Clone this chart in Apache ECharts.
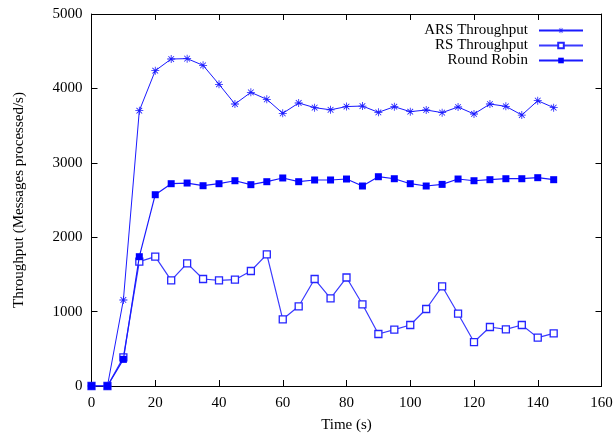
<!DOCTYPE html>
<html><head><meta charset="utf-8">
<script src="https://cdn.jsdelivr.net/npm/echarts@6/dist/echarts.min.js"></script>
<style>html,body{margin:0;padding:0;background:#fff}#c{width:615px;height:433px}</style>
</head><body><div id="c"></div>
<script>
const times = [0,5,10,15,20,25,30,35,40,45,50,55,60,65,70,75,80,85,90,95,100,105,110,115,120,125,130,135,140,145];
const arsThroughput = [0,0,1156,3700,4238,4395,4400,4310,4055,3790,3947,3853,3665,3804,3741,3712,3756,3763,3678,3754,3687,3710,3674,3750,3656,3790,3759,3642,3835,3741];
const rsThroughput = [0,0,385,1671,1738,1420,1649,1438,1420,1429,1546,1770,896,1071,1438,1178,1458,1098,699,757,820,1035,1340,972,591,793,762,820,650,708];
const roundRobin = [0,0,358,1738,2571,2719,2728,2692,2719,2759,2706,2746,2796,2746,2769,2769,2782,2688,2813,2786,2719,2688,2710,2782,2759,2773,2786,2786,2800,2773];
const seriesNames = ['ARS Throughput','RS Throughput','Round Robin'];

const pair = (ys) => times.map((t,i)=>[t, ys[i]]);
const font = '"Liberation Serif","DejaVu Serif",serif';
const blue = '#1a1aff';
const starPath = 'path://M4.5,0 L5.5,0 L5.5,3.8 L8.2,1.1 L8.9,1.8 L6.2,4.5 L10,4.5 L10,5.5 L6.2,5.5 L8.9,8.2 L8.2,8.9 L5.5,6.2 L5.5,10 L4.5,10 L4.5,6.2 L1.8,8.9 L1.1,8.2 L3.8,5.5 L0,5.5 L0,4.5 L3.8,4.5 L1.1,1.8 L1.8,1.1 L4.5,3.8 Z';

const axisCommon = {
  axisLine:{show:true, onZero:false, lineStyle:{color:'#000', width:1}},
  axisTick:{show:true, inside:true, length:6, lineStyle:{color:'#000'}},
  splitLine:{show:false}
};
const legendTops = [18, 33, 48];
const legends = seriesNames.map((n,i)=>({
  orient:'vertical', right:26, top:legendTops[i], align:'right',
  itemWidth:44, itemHeight:7, itemGap:0,
  textStyle:{fontFamily:font, fontSize:15, color:'#000', padding:[0,6,0,0]},
  data:[n]
}));

const chart = echarts.init(document.getElementById('c'), null, {renderer:'canvas'});
chart.setOption({
  animation:false,
  backgroundColor:'#fff',
  grid:{left:91.5, right:13.5, top:14, bottom:47, containLabel:false, outerBoundsMode:'none'},
  legend:legends,
  xAxis:[
    Object.assign({type:'value', min:0, max:160, interval:20, position:'bottom',
      name:'Time (s)', nameLocation:'middle', nameGap:32,
      nameTextStyle:{fontFamily:font, fontSize:15, color:'#000'},
      axisLabel:{fontFamily:font, fontSize:15, color:'#000', margin:10}}, axisCommon),
    Object.assign({type:'value', min:0, max:160, interval:20, position:'top', axisLabel:{show:false}}, axisCommon)
  ],
  yAxis:[
    Object.assign({type:'value', min:0, max:5000, interval:1000, position:'left',
      name:'Throughput (Messages processed/s)', nameLocation:'middle', nameGap:65,
      nameTextStyle:{fontFamily:font, fontSize:15, color:'#000'},
      axisLabel:{fontFamily:font, fontSize:15, color:'#000', margin:9, formatter:(v)=>String(v)}}, axisCommon),
    Object.assign({type:'value', min:0, max:5000, interval:1000, position:'right', axisLabel:{show:false}}, axisCommon)
  ],
  series:[
    {name:seriesNames[0], type:'line', data:pair(arsThroughput), symbol:starPath, symbolSize:8,
      lineStyle:{color:blue, width:1}, itemStyle:{color:blue}, z:3},
    {name:seriesNames[1], type:'line', data:pair(rsThroughput), symbol:'rect', symbolSize:7,
      lineStyle:{color:'#3a3aff', width:1.2}, itemStyle:{color:'#fff', borderColor:'#2525ff', borderWidth:1.3}, z:2},
    {name:seriesNames[2], type:'line', data:pair(roundRobin), symbol:'rect', symbolSize:7,
      lineStyle:{color:blue, width:1.2}, itemStyle:{color:'#0000ff'}, z:4}
  ]
});
</script></body></html>
